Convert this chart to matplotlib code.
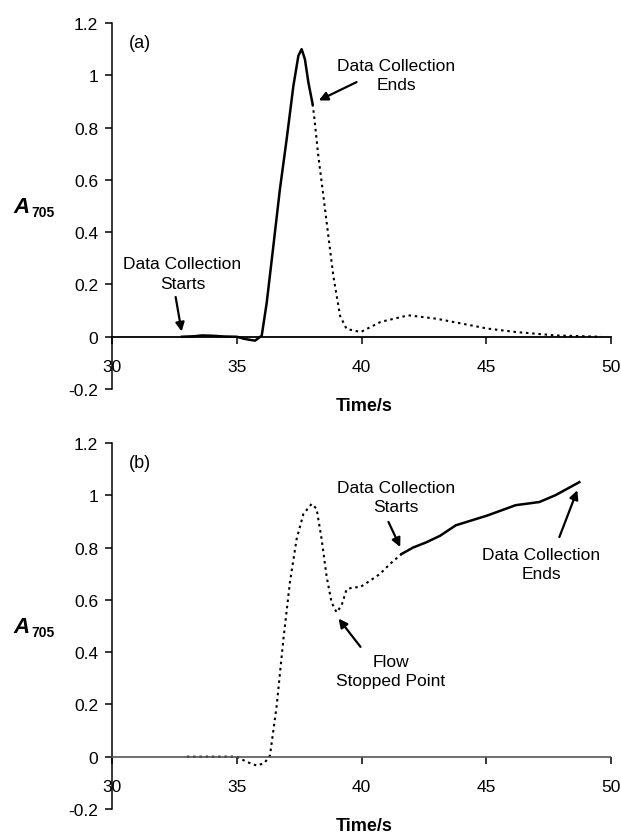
#!/usr/bin/env python3
# Two-panel absorbance (A705) traces vs time with data collection markers

import matplotlib
matplotlib.use('Agg')
import matplotlib.pyplot as plt

plt.rcParams['font.family'] = ['Liberation Sans', 'DejaVu Sans']

# Panel (a): solid part = collected data, dotted part = remainder of peak
t_a_solid = [32.8, 33.3, 33.6, 34.0, 34.5, 35.0, 35.3, 35.73, 36.0, 36.2, 36.47,
             36.73, 37.0, 37.27, 37.47, 37.6, 37.73, 37.87, 38.04]
a_a_solid = [0.0, 0.002, 0.005, 0.004, 0.001, 0.0, -0.008, -0.015, 0.004, 0.13, 0.35,
             0.565, 0.756, 0.96, 1.075, 1.10, 1.062, 0.973, 0.89]
t_a_dot = [38.04, 38.1, 38.27, 38.47, 38.67, 38.87, 39.14, 39.4, 39.97, 40.77,
           41.88, 43.0, 45.07, 46.2, 47.8, 49.6]
a_a_dot = [0.89, 0.845, 0.69, 0.54, 0.386, 0.233, 0.08, 0.03, 0.018, 0.057,
           0.082, 0.069, 0.031, 0.018, 0.005, 0.0]

# Panel (b): dotted = before collection, solid = collected after flow stopped
t_b_dot = [33.0, 34.0, 35.0, 35.4, 35.8, 36.1, 36.33, 36.6, 36.87, 37.13, 37.4,
           37.67, 38.0, 38.2, 38.4, 38.6, 38.8, 39.0, 39.2, 39.4, 39.67, 39.94,
           40.34, 40.74, 41.14, 41.6]
a_b_dot = [0.0, 0.0, 0.0, -0.02, -0.034, -0.025, 0.004, 0.195, 0.45, 0.667, 0.833,
           0.928, 0.967, 0.948, 0.833, 0.69, 0.59, 0.552, 0.578, 0.64, 0.648, 0.648,
           0.673, 0.699, 0.737, 0.775]
t_b_solid = [41.6, 42.07, 42.6, 43.15, 43.78, 45.06, 46.18, 47.13, 47.77, 48.73]
a_b_solid = [0.775, 0.80, 0.82, 0.845, 0.885, 0.923, 0.962, 0.974, 1.0, 1.05]

y_ticks = [-0.2, 0, 0.2, 0.4, 0.6, 0.8, 1, 1.2]
y_ticklabels = ['-0.2', '0', '0.2', '0.4', '0.6', '0.8', '1', '1.2']
x_ticks = [30, 35, 40, 45, 50]

fig = plt.figure(figsize=(6.21, 8.37), dpi=100)
ax_a = fig.add_axes([0.1804, 0.534, 0.8035, 0.4373])
ax_b = fig.add_axes([0.1804, 0.0323, 0.8035, 0.4373])

dot = (0, (1.2, 1.8))
fs = 12.5


def style_axes(ax, zero_line_style):
    ax.set_xlim(30, 50)
    ax.set_ylim(-0.2, 1.2)
    ax.spines['top'].set_visible(False)
    ax.spines['right'].set_visible(False)
    ax.spines['left'].set_linewidth(1.1)
    ax.spines['bottom'].set_position(('data', 0))
    if zero_line_style == 'dotted':
        ax.spines['bottom'].set_linestyle((0, (1, 1)))
        ax.spines['bottom'].set_color('#555555')
        ax.spines['bottom'].set_linewidth(1.2)
    else:
        ax.spines['bottom'].set_linewidth(1.3)
    ax.set_xticks(x_ticks)
    ax.set_yticks(y_ticks)
    ax.set_yticklabels(y_ticklabels)
    ax.tick_params(axis='x', direction='out', length=5, width=1.1, pad=11,
                   labelsize=fs, color='black')
    ax.tick_params(axis='y', direction='out', length=5, width=1.1, pad=5,
                   labelsize=fs)


style_axes(ax_a, 'solid')
style_axes(ax_b, 'dotted')

arrow = dict(arrowstyle='-|>', color='black', lw=1.6, mutation_scale=13,
             shrinkA=0, shrinkB=0)
txt = dict(fontsize=fs, ha='center', va='center', multialignment='center',
           linespacing=1.35)

# Panel (a)
ax_a.plot(t_a_solid, a_a_solid, color='black', lw=1.8, solid_joinstyle='round')
ax_a.plot(t_a_dot, a_a_dot, color='black', lw=1.5, linestyle=dot)
ax_a.text(31.1, 1.127, '(a)', fontsize=13, ha='center', va='center')

ax_a.text(32.82, 0.242, 'Data Collection\nStarts', **txt)
ax_a.annotate('', xy=(32.79, 0.02), xytext=(32.55, 0.152), arrowprops=arrow)
ax_a.text(41.39, 1.0, 'Data Collection\nEnds', **txt)
ax_a.annotate('', xy=(38.29, 0.904), xytext=(39.8, 0.974), arrowprops=arrow)

# Panel (b)
ax_b.plot(t_b_dot, a_b_dot, color='black', lw=1.5, linestyle=dot)
ax_b.plot(t_b_solid, a_b_solid, color='black', lw=1.8, solid_joinstyle='round')
ax_b.text(31.1, 1.127, '(b)', fontsize=13, ha='center', va='center')

ax_b.text(41.39, 0.993, 'Data Collection\nStarts', **txt)
ax_b.annotate('', xy=(41.55, 0.802), xytext=(41.08, 0.898), arrowprops=arrow)
ax_b.text(47.21, 0.738, 'Data Collection\nEnds', **txt)
ax_b.annotate('', xy=(48.65, 1.019), xytext=(47.93, 0.84), arrowprops=arrow)
ax_b.text(41.16, 0.328, 'Flow\nStopped Point', **txt)
ax_b.annotate('', xy=(39.08, 0.528), xytext=(39.96, 0.42), arrowprops=arrow)

# Axis labels placed in figure coordinates
for y_a, y_sub, y_time in [(0.7455, 0.7407, 0.514), (0.2437, 0.2390, 0.0123)]:
    fig.text(0.0209, y_a, 'A', fontsize=16, fontweight='bold', fontstyle='italic',
             va='baseline', ha='left')
    fig.text(0.0499, y_sub, '705', fontsize=10, fontweight='bold',
             va='baseline', ha='left')
    fig.text(0.587, y_time, 'Time/s', fontsize=13, fontweight='bold',
             ha='center', va='center')

fig.savefig('out.png', dpi=100)
